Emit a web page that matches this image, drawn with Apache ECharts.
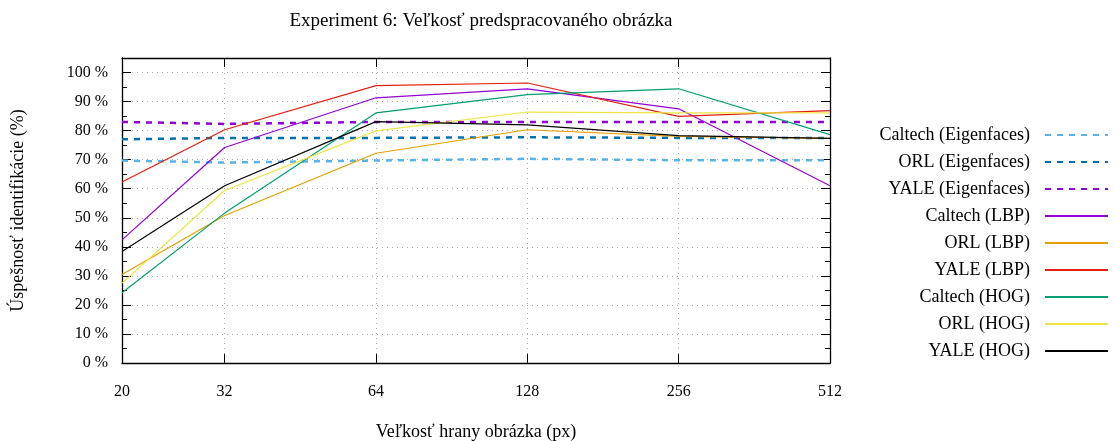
<!DOCTYPE html>
<html>
<head>
<meta charset="utf-8">
<script src="https://cdn.jsdelivr.net/npm/echarts@6/dist/echarts.min.js"></script>
<style>
  html, body { margin: 0; padding: 0; background: #fff; }
  #main { width: 1115px; height: 441px; }
</style>
</head>
<body>
<div id="main"></div>
<script>
  // velkost hrany obrazka (px)
  const sizes = [20, 32, 64, 128, 256, 512];
  const sizeTicks = [32, 64, 128, 256];

  const caltechEigen = [69.7, 69.0, 69.7, 70.3, 69.8, 69.8];
  const orlEigen = [77.0, 77.5, 77.5, 77.7, 77.5, 77.5];
  const yaleEigen = [83.0, 82.3, 83.0, 83.0, 83.0, 83.0];
  const caltechLbp = [42.4, 74.2, 91.3, 94.4, 87.5, 61.0];
  const orlLbp = [30.5, 50.8, 72.2, 80.3, 78.0, 77.3];
  const yaleLbp = [62.3, 80.3, 95.5, 96.4, 84.9, 86.9];
  const caltechHog = [24.2, 51.6, 86.1, 92.4, 94.4, 78.6];
  const orlHog = [27.5, 59.4, 79.9, 86.4, 86.1, 86.1];
  const yaleHog = [38.4, 61.0, 83.1, 82.0, 78.3, 77.3];

  const font = 'Liberation Serif';
  const myChart = echarts.init(document.getElementById('main'));

  function mk(name, values, color, dashed) {
    return {
      name: name,
      type: 'line',
      symbol: 'none',
      data: sizes.map((s, i) => [s, values[i]]),
      lineStyle: dashed
        ? { color: color, width: 2.5, type: [6, 6] }
        : { color: color, width: 1.2 },
      itemStyle: { color: color },
      z: dashed ? 2 : 3
    };
  }

  const series = [
    mk('Caltech (Eigenfaces)', caltechEigen, '#56b4e9', true),
    mk('ORL (Eigenfaces)', orlEigen, '#0072b2', true),
    mk('YALE (Eigenfaces)', yaleEigen, '#9400d3', true),
    mk('Caltech (LBP)', caltechLbp, '#9400d3', false),
    mk('ORL (LBP)', orlLbp, '#e69f00', false),
    mk('YALE (LBP)', yaleLbp, '#e51e10', false),
    mk('Caltech (HOG)', caltechHog, '#009e73', false),
    mk('ORL (HOG)', orlHog, '#f0e442', false),
    mk('YALE (HOG)', yaleHog, '#000000', false)
  ];

  const axisLine = { show: true, onZero: false, lineStyle: { color: '#000', width: 1.3 } };
  const grid = { type: [1, 4], color: '#aaaaaa', width: 1 };

  const option = {
    animation: false,
    title: {
      text: 'Experiment 6: Veľkosť predspracovaného obrázka',
      left: 476,
      top: 7,
      textAlign: 'center',
      textStyle: { fontFamily: font, fontSize: 19, fontWeight: 'normal', color: '#000' }
    },
    legend: {
      orient: 'vertical',
      left: 845,
      top: 121,
      align: 'right',
      itemWidth: 63,
      itemHeight: 14,
      itemGap: 9,
      itemStyle: { opacity: 0 },
      textStyle: { fontFamily: font, fontSize: 18, lineHeight: 18, color: '#000', width: 180, align: 'right', padding: [0, 10, 0, 0] }
    },
    grid: { left: 122, right: 285, top: 58, bottom: 78, outerBoundsMode: 'none' },
    xAxis: [{
      type: 'log',
      logBase: 2,
      min: 20,
      max: 512,
      name: 'Veľkosť hrany obrázka (px)',
      nameLocation: 'middle',
      nameGap: 60,
      nameTextStyle: { fontFamily: font, fontSize: 18, color: '#000' },
      axisLine: axisLine,
      axisTick: { show: true, inside: true, length: 9, customValues: sizeTicks, lineStyle: { color: '#000' } },
      axisLabel: { customValues: sizes, fontFamily: font, fontSize: 16, color: '#000', margin: 21 },
      splitLine: { show: true, lineStyle: grid }
    }, {
      type: 'log',
      logBase: 2,
      min: 20,
      max: 512,
      position: 'top',
      axisLine: axisLine,
      axisTick: { show: true, inside: true, length: 9, customValues: sizeTicks, lineStyle: { color: '#000' } },
      axisLabel: { show: false },
      splitLine: { show: false }
    }],
    yAxis: [{
      type: 'value',
      min: 0,
      max: 105,
      interval: 10,
      name: 'Úspešnosť identifikácie (%)',
      nameLocation: 'middle',
      nameRotate: 90,
      nameGap: 95,
      nameTextStyle: { fontFamily: font, fontSize: 18, color: '#000' },
      axisLine: axisLine,
      axisTick: { show: true, inside: true, length: 9, lineStyle: { color: '#000' } },
      minorTick: { show: true, splitNumber: 2, length: 5, lineStyle: { color: '#000' } },
      axisLabel: {
        fontFamily: font, fontSize: 16, color: '#000', margin: 14,
        formatter: v => (v > 100 ? '' : v + ' %')
      },
      splitLine: { show: true, lineStyle: grid }
    }, {
      type: 'value',
      min: 0,
      max: 105,
      interval: 10,
      position: 'right',
      axisLine: axisLine,
      axisTick: { show: true, inside: true, length: 9, lineStyle: { color: '#000' } },
      minorTick: { show: true, splitNumber: 2, length: 5, lineStyle: { color: '#000' } },
      axisLabel: { show: false },
      splitLine: { show: false }
    }],
    series: series
  };

  myChart.setOption(option);
</script>
</body>
</html>
